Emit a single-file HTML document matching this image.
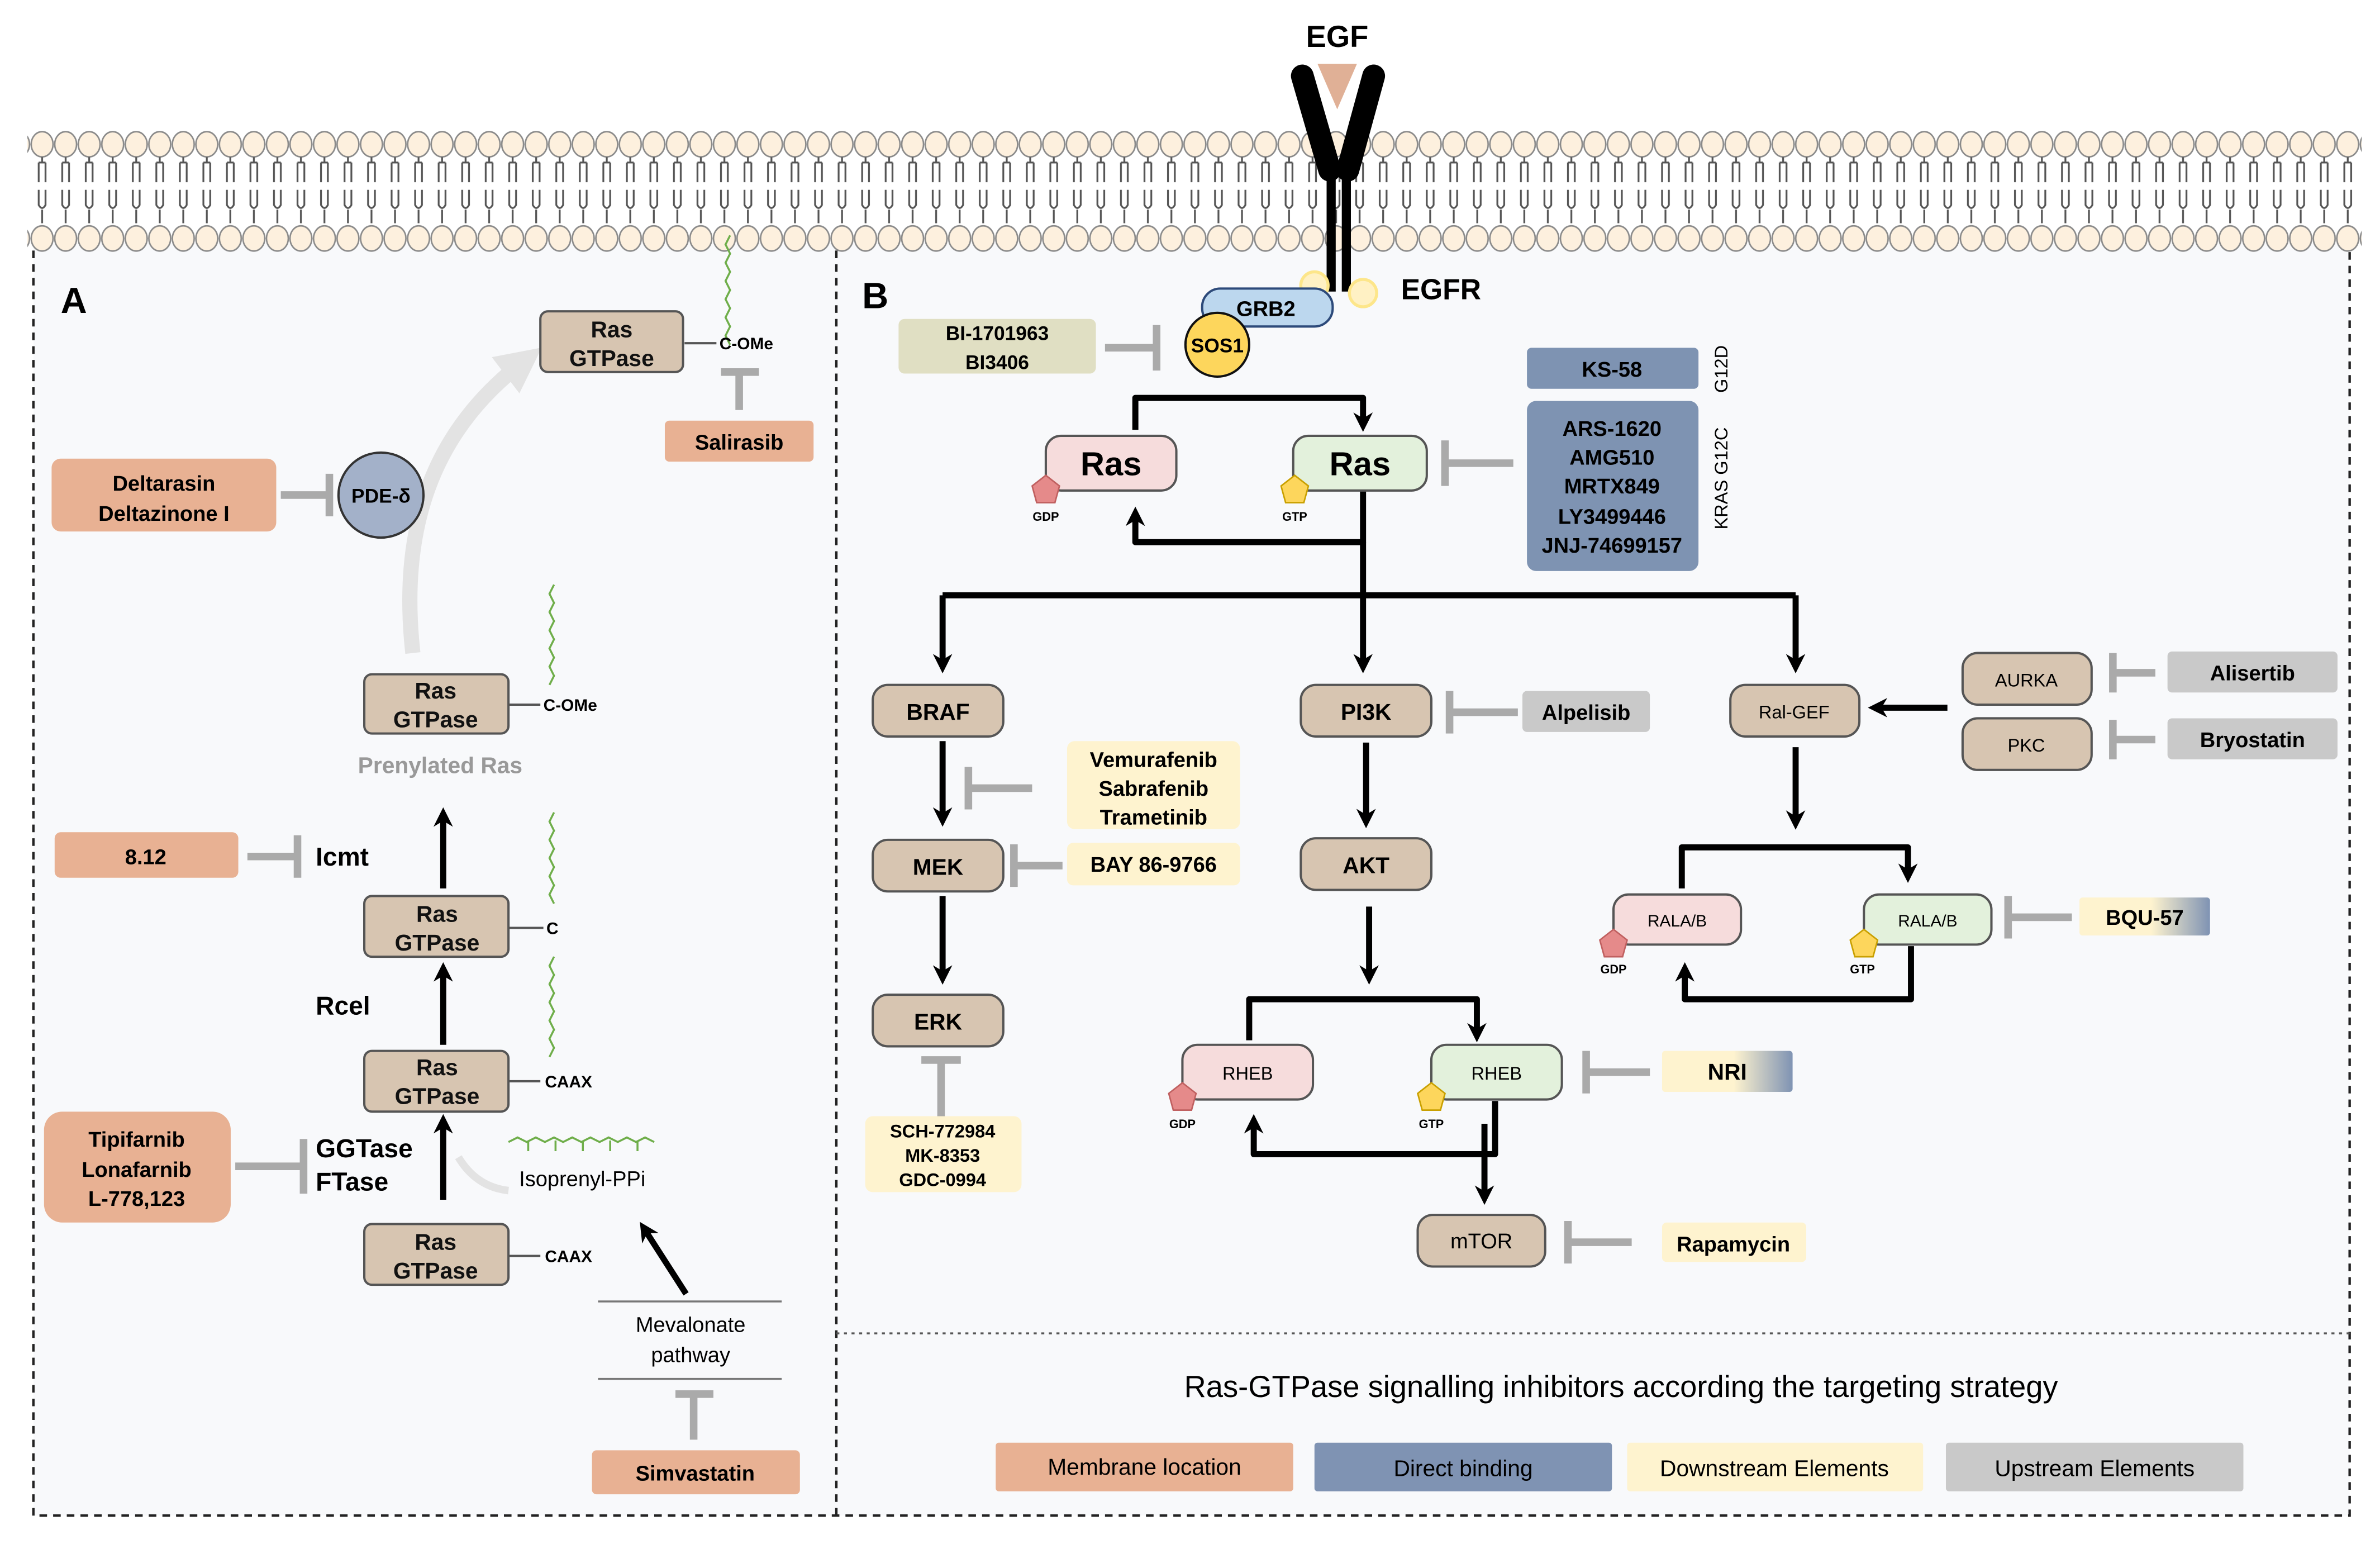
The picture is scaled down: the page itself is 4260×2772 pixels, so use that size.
<!DOCTYPE html>
<html><head><meta charset="utf-8"><style>
html,body{margin:0;padding:0;background:#fff;}
svg{display:block;}
text{font-family:"Liberation Sans",sans-serif;}
.b{font-weight:bold;}
</style></head><body>
<svg width="4260" height="2772" viewBox="0 0 1568 1020" preserveAspectRatio="none" xmlns="http://www.w3.org/2000/svg">
<defs>
<pattern id="mem" x="20" y="85" width="15.5" height="82" patternUnits="userSpaceOnUse">
<ellipse cx="7.75" cy="10" rx="7.2" ry="8.3" fill="#fdf0de" stroke="#8a8a8a" stroke-width="1"/>
<path d="M7.75,18.5 v3 M5.5,22 h4.5 M5.5,22 v13 M10,22 v13" stroke="#555" stroke-width="1.2" fill="none"/>
<path d="M5.5,40 v10 q2.25,4 4.5,0 v-10 M7.75,53 v9" stroke="#555" stroke-width="1.2" fill="none"/>
<ellipse cx="7.75" cy="72" rx="7.2" ry="8.3" fill="#fdf0de" stroke="#8a8a8a" stroke-width="1"/>
</pattern>
<marker id="ah" viewBox="0 0 10 10" refX="5" refY="5" markerWidth="3.2" markerHeight="3.2" orient="auto-start-reverse"><path d="M0,0 L10,5 L0,10 L3,5z" fill="#000"/></marker>
<marker id="ahs" viewBox="0 0 10 10" refX="5" refY="5" markerWidth="4" markerHeight="4" orient="auto-start-reverse"><path d="M0,0 L10,5 L0,10 z" fill="#000"/></marker>
<marker id="ahg" viewBox="0 0 10 10" refX="5" refY="5" markerWidth="3" markerHeight="3" orient="auto"><path d="M0,0 L10,5 L0,10 z" fill="#e3e3e3"/></marker>
<linearGradient id="gy" x1="0" x2="1"><stop offset="0" stop-color="#fef3cf"/><stop offset="0.55" stop-color="#fef3cf"/><stop offset="1" stop-color="#7f93b3"/></linearGradient>
</defs>
<rect width="1568" height="1020" fill="#fff"/>
<rect x="22" y="160" width="1526" height="838" fill="#f8f9fb"/>
<!-- membrane -->
<rect x="18" y="85" width="1538" height="82" fill="url(#mem)"/>
<!-- borders -->
<g stroke="#222" stroke-width="1.6" stroke-dasharray="5,4" fill="none">
<path d="M22,165 V998 H1548 V165"/>
<path d="M551,165 V998"/>
</g>
<path d="M551,878 H1548" stroke="#555" stroke-width="1.3" stroke-dasharray="2,3"/>
<!-- EGFR -->
<path d="M868,42 L894,42 L881,72z" fill="#e0b096"/>
<path d="M858,50 L876,112" stroke="#000" stroke-width="15" stroke-linecap="round"/>
<path d="M905,50 L888,112" stroke="#000" stroke-width="15" stroke-linecap="round"/>
<path d="M877,110 V192 M887,110 V192" stroke="#000" stroke-width="6"/>
<text x="881" y="31" class="b" font-size="20" text-anchor="middle">EGF</text>
<circle cx="866" cy="188" r="9" fill="#fff1c4" stroke="#fde68a" stroke-width="2"/>
<circle cx="898" cy="193" r="9" fill="#fff1c4" stroke="#fde68a" stroke-width="2"/>
<text x="923" y="197" class="b" font-size="19">EGFR</text>
<rect x="792" y="190" width="86" height="25" rx="12" fill="#bcd7ee" stroke="#2d4a7a" stroke-width="1.5"/>
<text x="834" y="208" class="b" font-size="14" text-anchor="middle">GRB2</text>
<circle cx="802" cy="227" r="21" fill="#fdd65c" stroke="#111" stroke-width="1.5"/>
<text x="802" y="232" class="b" font-size="13" text-anchor="middle">SOS1</text>
<rect x="592" y="210" width="130" height="36" rx="4" fill="#e0dfc3"/>
<text x="657" y="224" class="b" font-size="13" text-anchor="middle">BI-1701963</text>
<text x="657" y="243" class="b" font-size="13" text-anchor="middle">BI3406</text>
<g stroke="#aaa" stroke-width="5" fill="none">
<path d="M728,229 H762 M762,214 V244"/>
<path d="M997,305 H952 M952,290 V320"/>
<path d="M680,519 H638 M638,505 V533"/>
<path d="M700,570 H668 M668,556 V584"/>
<path d="M620,735 V698 M607,698 H633"/>
<path d="M1000,469 H955 M955,455 V483"/>
<path d="M1075,818 H1033 M1033,804 V832"/>
<path d="M1087,706 H1045 M1045,692 V720"/>
<path d="M1420,443 H1392 M1392,430 V456"/>
<path d="M1420,487 H1392 M1392,474 V500"/>
<path d="M1365,604 H1323 M1323,590 V618"/>
<path d="M487,270 V245 M475,245 H500"/>
<path d="M185,326 H217 M217,312 V340"/>
<path d="M163,564 H196 M196,550 V578"/>
<path d="M155,768 H200 M200,750 V786"/>
<path d="M457,948 V918 M445,918 H470"/>
</g>
<!-- Ras cycle -->
<g stroke="#000" stroke-width="4" fill="none" stroke-linejoin="round">
<path d="M748,283 V262 H898 V278" marker-end="url(#ah)"/>
<path d="M898,323 V357 H748 V340" marker-end="url(#ah)"/>
<path d="M898,357 V392 M621,392 H1183"/>
<path d="M621,392 V437" marker-end="url(#ah)"/>
<path d="M898,392 V437" marker-end="url(#ah)"/>
<path d="M1183,392 V437" marker-end="url(#ah)"/>
<path d="M621,488 V538" marker-end="url(#ah)"/>
<path d="M621,590 V642" marker-end="url(#ah)"/>
<path d="M900,489 V539" marker-end="url(#ah)"/>
<path d="M902,597 V642" marker-end="url(#ah)"/>
<path d="M823,685 V658 H973 V680" marker-end="url(#ah)"/>
<path d="M985,725 V760 H826 V740" marker-end="url(#ah)"/>
<path d="M978,740 V787" marker-end="url(#ah)"/>
<path d="M1283,466 H1237" marker-end="url(#ah)"/>
<path d="M1183,492 V540" marker-end="url(#ah)"/>
<path d="M1108,585 V558 H1257 V575" marker-end="url(#ah)"/>
<path d="M1259,623 V658 H1110 V640" marker-end="url(#ah)"/>
<path d="M292,585 V538" marker-end="url(#ah)"/>
<path d="M292,688 V640" marker-end="url(#ah)"/>
<path d="M292,790 V740" marker-end="url(#ah)"/>
<path d="M452,852 L425,810" marker-end="url(#ah)"/>
</g>
<rect x="689" y="287" width="86" height="36" rx="10" fill="#f6dcdc" stroke="#555" stroke-width="1.5"/>
<text x="732" y="313" class="b" font-size="22" text-anchor="middle">Ras</text>
<rect x="852" y="287" width="88" height="36" rx="10" fill="#e3f1dc" stroke="#555" stroke-width="1.5"/>
<text x="896" y="313" class="b" font-size="22" text-anchor="middle">Ras</text>
<polygon points="689,313 698,320 695,331 683,331 680,320" fill="#e58a8a" stroke="#c06060"/>
<polygon points="853,313 862,320 859,331 847,331 844,320" fill="#fdd65c" stroke="#c9a000"/>
<text x="689" y="343" font-size="8" text-anchor="middle" class="b">GDP</text>
<text x="853" y="343" font-size="8" text-anchor="middle" class="b">GTP</text>
<rect x="1006" y="229" width="113" height="27" rx="3" fill="#7e93b2"/>
<text x="1062" y="248" class="b" font-size="14" text-anchor="middle">KS-58</text>
<rect x="1006" y="264" width="113" height="112" rx="6" fill="#7e93b2"/>
<g class="b" font-size="14" text-anchor="middle"><text x="1062" y="287">ARS-1620</text><text x="1062" y="306">AMG510</text><text x="1062" y="325">MRTX849</text><text x="1062" y="345">LY3499446</text><text x="1062" y="364">JNJ-74699157</text></g>
<text transform="translate(1138,243) rotate(-90)" font-size="12" text-anchor="middle">G12D</text>
<text transform="translate(1138,315) rotate(-90)" font-size="12" text-anchor="middle">KRAS G12C</text>
<!-- nodes -->
<g fill="#d7c5b1" stroke="#555" stroke-width="1.5">
<rect x="575" y="451" width="86" height="34" rx="10"/>
<rect x="857" y="451" width="86" height="34" rx="10"/>
<rect x="1140" y="451" width="85" height="34" rx="10"/>
<rect x="575" y="553" width="86" height="34" rx="10"/>
<rect x="857" y="552" width="86" height="34" rx="10"/>
<rect x="575" y="655" width="86" height="34" rx="10"/>
<rect x="934" y="800" width="84" height="34" rx="10"/>
<rect x="1293" y="430" width="85" height="34" rx="10"/>
<rect x="1293" y="473" width="85" height="34" rx="10"/>
</g>
<g class="b" font-size="15" text-anchor="middle">
<text x="618" y="474">BRAF</text><text x="900" y="474">PI3K</text><text x="618" y="576">MEK</text><text x="900" y="575">AKT</text><text x="618" y="678">ERK</text>
</g>
<g font-size="12" text-anchor="middle">
<text x="1182" y="473">Ral-GEF</text><text x="976" y="822" font-size="14">mTOR</text><text x="1335" y="452">AURKA</text><text x="1335" y="495">PKC</text>
</g>
<rect x="703" y="488" width="114" height="58" rx="5" fill="#fef3cf"/>
<g class="b" font-size="14" text-anchor="middle"><text x="760" y="505">Vemurafenib</text><text x="760" y="524">Sabrafenib</text><text x="760" y="543">Trametinib</text></g>
<rect x="703" y="555" width="114" height="28" rx="4" fill="#fef3cf"/>
<text x="760" y="574" class="b" font-size="14" text-anchor="middle">BAY 86-9766</text>
<rect x="570" y="735" width="103" height="50" rx="5" fill="#fef3cf"/>
<g class="b" font-size="12" text-anchor="middle"><text x="621" y="749">SCH-772984</text><text x="621" y="765">MK-8353</text><text x="621" y="781">GDC-0994</text></g>
<rect x="1003" y="455" width="84" height="27" rx="3" fill="#c9c9c9"/>
<text x="1045" y="474" class="b" font-size="14" text-anchor="middle">Alpelisib</text>
<rect x="1095" y="805" width="95" height="26" rx="3" fill="#fef3cf"/>
<text x="1142" y="824" class="b" font-size="14" text-anchor="middle">Rapamycin</text>
<rect x="1095" y="692" width="86" height="27" rx="2" fill="url(#gy)"/>
<text x="1138" y="711" class="b" font-size="15" text-anchor="middle">NRI</text>
<rect x="1428" y="429" width="112" height="27" rx="3" fill="#c9c9c9"/>
<text x="1484" y="448" class="b" font-size="14" text-anchor="middle">Alisertib</text>
<rect x="1428" y="473" width="112" height="27" rx="3" fill="#c9c9c9"/>
<text x="1484" y="492" class="b" font-size="14" text-anchor="middle">Bryostatin</text>
<rect x="1370" y="591" width="86" height="25" rx="2" fill="url(#gy)"/>
<text x="1413" y="609" class="b" font-size="14" text-anchor="middle">BQU-57</text>
<!-- RHEB -->
<rect x="779" y="688" width="86" height="36" rx="10" fill="#f6dcdc" stroke="#555" stroke-width="1.5"/>
<rect x="943" y="688" width="86" height="36" rx="10" fill="#e3f1dc" stroke="#555" stroke-width="1.5"/>
<text x="822" y="711" font-size="12" text-anchor="middle">RHEB</text>
<text x="986" y="711" font-size="12" text-anchor="middle">RHEB</text>
<polygon points="779,713 788,720 785,731 773,731 770,720" fill="#e58a8a" stroke="#c06060"/>
<polygon points="943,713 952,720 949,731 937,731 934,720" fill="#fdd65c" stroke="#c9a000"/>
<text x="779" y="743" font-size="8" text-anchor="middle" class="b">GDP</text>
<text x="943" y="743" font-size="8" text-anchor="middle" class="b">GTP</text>
<!-- RALA -->
<rect x="1063" y="589" width="84" height="33" rx="10" fill="#f6dcdc" stroke="#555" stroke-width="1.5"/>
<rect x="1228" y="589" width="84" height="33" rx="10" fill="#e3f1dc" stroke="#555" stroke-width="1.5"/>
<text x="1105" y="610" font-size="11" text-anchor="middle">RALA/B</text>
<text x="1270" y="610" font-size="11" text-anchor="middle">RALA/B</text>
<polygon points="1063,612 1072,619 1069,630 1057,630 1054,619" fill="#e58a8a" stroke="#c06060"/>
<polygon points="1228,612 1237,619 1234,630 1222,630 1219,619" fill="#fdd65c" stroke="#c9a000"/>
<text x="1063" y="641" font-size="8" text-anchor="middle" class="b">GDP</text>
<text x="1227" y="641" font-size="8" text-anchor="middle" class="b">GTP</text>
<!-- legend -->
<text x="1068" y="920" font-size="20" text-anchor="middle">Ras-GTPase  signalling inhibitors according the targeting strategy</text>
<rect x="656" y="950" width="196" height="32" rx="2" fill="#e8b193"/>
<rect x="866" y="950" width="196" height="32" rx="2" fill="#7f93b3"/>
<rect x="1072" y="950" width="195" height="32" rx="2" fill="#fef3cf"/>
<rect x="1282" y="950" width="196" height="32" rx="2" fill="#c9c9c9"/>
<g font-size="15" text-anchor="middle"><text x="754" y="971">Membrane location</text><text x="964" y="972">Direct binding</text><text x="1169" y="972">Downstream Elements</text><text x="1380" y="972">Upstream Elements</text></g>
<!-- Panel labels -->
<text x="40" y="206" class="b" font-size="24">A</text>
<text x="568" y="203" class="b" font-size="24">B</text>
<!-- Panel A -->
<path d="M272,430 C262,340 290,280 345,238" stroke="#e3e3e3" stroke-width="10" fill="none" marker-end="url(#ahg)"/>
<path d="M335,784 C318,782 308,772 302,762" stroke="#e3e3e3" stroke-width="5" fill="none"/>
<g stroke="#6fae4a" stroke-width="1.3" fill="none">
<path d="M481,155 l-3,6 l3,6 l-3,6 l3,6 l-3,6 l3,6 l-3,6 l3,6 l-3,6 l3,6 l-3,6 l3,6"/>
<path d="M365,385 l-3,6 l3,6 l-3,6 l3,6 l-3,6 l3,6 l-3,6 l3,6 l-3,6 l3,6 l-3,6"/>
<path d="M365,535 l-3,6 l3,6 l-3,6 l3,6 l-3,6 l3,6 l-3,6 l3,6 l-3,6 l3,6"/>
<path d="M365,630 l-3,6 l3,6 l-3,6 l3,6 l-3,6 l3,6 l-3,6 l3,6 l-3,6 l3,6 l-3,6"/>
<path d="M335,752 l6,-3 l6,3 l6,-3 l6,3 l6,-3 l6,3 l6,-3 l6,3 l6,-3 l6,3 l6,-3 l6,3 l6,-3 l6,3 l6,-3 l6,3 M348,751 v7 M366,751 v7 M384,751 v7 M402,751 v7 M420,751 v7"/>
</g>
<g stroke="#555" stroke-width="1.5">
<path d="M451,226 H472 M335,464 H356 M335,611 H358 M335,712 H356 M335,827 H356"/>
</g>
<g fill="#d7c5b1" stroke="#555" stroke-width="1.5">
<rect x="356" y="205" width="94" height="40" rx="5"/>
<rect x="240" y="444" width="95" height="39" rx="5"/>
<rect x="240" y="590" width="95" height="40" rx="5"/>
<rect x="240" y="692" width="95" height="40" rx="5"/>
<rect x="240" y="806" width="95" height="40" rx="5"/>
</g>
<g class="b" font-size="15" text-anchor="middle" fill="#111">
<text x="403" y="222">Ras</text><text x="403" y="241">GTPase</text>
<text x="287" y="460">Ras</text><text x="287" y="479">GTPase</text>
<text x="288" y="607">Ras</text><text x="288" y="626">GTPase</text>
<text x="288" y="708">Ras</text><text x="288" y="727">GTPase</text>
<text x="287" y="823">Ras</text><text x="287" y="842">GTPase</text>
</g>
<g class="b" font-size="11">
<text x="474" y="230">C-OMe</text><text x="358" y="468">C-OMe</text><text x="360" y="615">C</text><text x="359" y="716">CAAX</text><text x="359" y="831">CAAX</text>
</g>
<text x="290" y="509" class="b" font-size="15" fill="#999" text-anchor="middle">Prenylated Ras</text>
<rect x="438" y="277" width="98" height="27" rx="3" fill="#e8b193"/>
<text x="487" y="296" class="b" font-size="14" text-anchor="middle">Salirasib</text>
<circle cx="251" cy="326" r="28" fill="#a3b1c9" stroke="#333" stroke-width="1.5"/>
<text x="251" y="331" class="b" font-size="13" text-anchor="middle">PDE-δ</text>
<rect x="34" y="302" width="148" height="48" rx="6" fill="#e8b193"/>
<text x="108" y="323" class="b" font-size="14" text-anchor="middle">Deltarasin</text>
<text x="108" y="343" class="b" font-size="14" text-anchor="middle">Deltazinone I</text>
<rect x="36" y="548" width="121" height="30" rx="4" fill="#e8b193"/>
<text x="96" y="569" class="b" font-size="14" text-anchor="middle">8.12</text>
<text x="208" y="570" class="b" font-size="17">Icmt</text>
<text x="208" y="668" class="b" font-size="17">Rcel</text>
<text x="208" y="762" class="b" font-size="17">GGTase</text>
<text x="208" y="784" class="b" font-size="17">FTase</text>
<rect x="29" y="732" width="123" height="73" rx="12" fill="#e8b193"/>
<g class="b" font-size="14" text-anchor="middle"><text x="90" y="755">Tipifarnib</text><text x="90" y="775">Lonafarnib</text><text x="90" y="794">L-778,123</text></g>
<text x="342" y="781" font-size="14">Isoprenyl-PPi</text>
<path d="M394,857 H515 M394,908 H515" stroke="#777" stroke-width="1.3"/>
<text x="455" y="877" font-size="14" text-anchor="middle">Mevalonate</text>
<text x="455" y="897" font-size="14" text-anchor="middle">pathway</text>
<rect x="390" y="955" width="137" height="29" rx="3" fill="#e8b193"/>
<text x="458" y="975" class="b" font-size="14" text-anchor="middle">Simvastatin</text>
</svg>
</body></html>
